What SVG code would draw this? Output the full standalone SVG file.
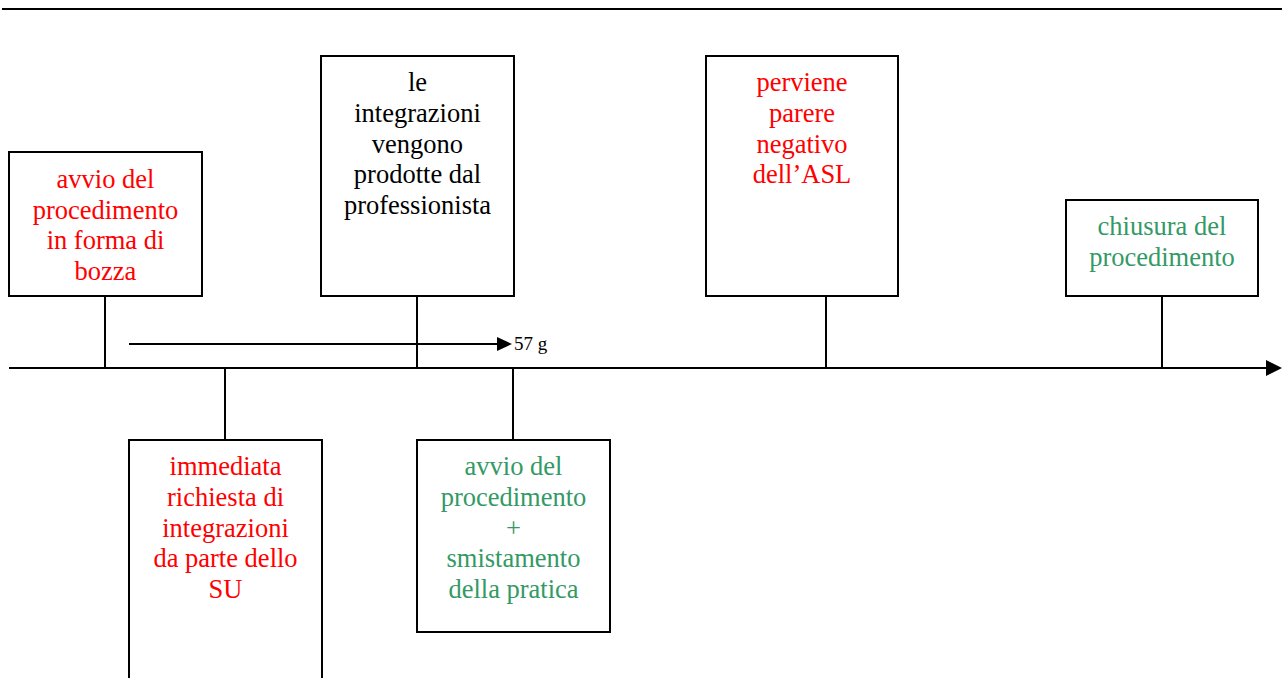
<svg xmlns="http://www.w3.org/2000/svg" width="1285" height="678" viewBox="0 0 1285 678">
  <style>
    .box { fill: #ffffff; stroke: #000000; stroke-width: 2; }
    .ln { stroke: #000000; stroke-width: 2; fill: none; }
    .t { font-family: "Liberation Serif", "Times New Roman", serif; font-size: 26.5px; text-anchor: middle; }
    .red { fill: #ff0000; }
    .green { fill: #339966; }
    .black { fill: #000000; }
    .small { font-family: "Liberation Serif", "Times New Roman", serif; font-size: 19px; fill: #000000; }
  </style>

  <!-- top rule -->
  <line class="ln" x1="2" y1="9" x2="1282" y2="9"/>

  <!-- connectors and timeline -->
  <g id="connectors">
    <line class="ln" x1="9" y1="368" x2="1268" y2="368"/>
    <path d="M1266,360 L1282,368 L1266,376 z" fill="#000000"/>
    <line class="ln" x1="105" y1="296" x2="105" y2="368"/>
    <line class="ln" x1="417" y1="296" x2="417" y2="368"/>
    <line class="ln" x1="826" y1="296" x2="826" y2="368"/>
    <line class="ln" x1="1162" y1="296" x2="1162" y2="368"/>
    <line class="ln" x1="225" y1="368" x2="225" y2="440"/>
    <line class="ln" x1="513" y1="368" x2="513" y2="440"/>
    <!-- 57 days span -->
    <line class="ln" x1="129" y1="344" x2="498" y2="344"/>
    <path d="M497,337 L512,344 L497,351 z" fill="#000000"/>
    <text class="small" x="514" y="350">57 g</text>
  </g>

  <g id="bozza">
    <rect class="box" x="9" y="152" width="193" height="144"/>
    <g class="t red">
      <text x="105.5" y="188">avvio del</text>
      <text x="105.5" y="218.5">procedimento</text>
      <text x="105.5" y="249">in forma di</text>
      <text x="105.5" y="279.5">bozza</text>
    </g>
  </g>

  <g id="integrazioni-prodotte">
    <rect class="box" x="321" y="56" width="193" height="240"/>
    <g class="t black">
      <text x="417.5" y="91">le</text>
      <text x="417.5" y="122">integrazioni</text>
      <text x="417.5" y="152.5">vengono</text>
      <text x="417.5" y="183">prodotte dal</text>
      <text x="417.5" y="214">professionista</text>
    </g>
  </g>

  <g id="parere-asl">
    <rect class="box" x="706" y="56" width="192" height="240"/>
    <g class="t red">
      <text x="802" y="91">perviene</text>
      <text x="802" y="122">parere</text>
      <text x="802" y="152.5">negativo</text>
      <text x="802" y="183">dell’ASL</text>
    </g>
  </g>

  <g id="chiusura">
    <rect class="box" x="1066" y="200" width="192" height="96"/>
    <g class="t green">
      <text x="1162" y="235">chiusura del</text>
      <text x="1162" y="266">procedimento</text>
    </g>
  </g>

  <g id="richiesta-integrazioni">
    <path class="ln" d="M129,679 L129,440 L322,440 L322,679"/>
    <g class="t red">
      <text x="225.5" y="475">immediata</text>
      <text x="225.5" y="506">richiesta di</text>
      <text x="225.5" y="536.5">integrazioni</text>
      <text x="225.5" y="567">da parte dello</text>
      <text x="225.5" y="598">SU</text>
    </g>
  </g>

  <g id="smistamento">
    <rect class="box" x="417" y="440" width="193" height="192"/>
    <g class="t green">
      <text x="513.5" y="475">avvio del</text>
      <text x="513.5" y="506">procedimento</text>
      <text x="513.5" y="536.5">+</text>
      <text x="513.5" y="567">smistamento</text>
      <text x="513.5" y="598">della pratica</text>
    </g>
  </g>
</svg>
